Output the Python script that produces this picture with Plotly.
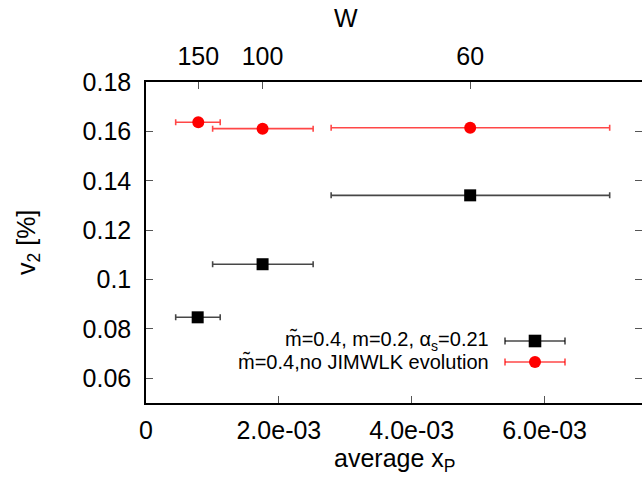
import plotly.graph_objects as go

# ---- data ----
xp_mean = [0.778e-3, 1.755e-3, 4.88e-3]
xp_lo = [0.447e-3, 1.003e-3, 2.787e-3]
xp_hi = [1.117e-3, 2.516e-3, 6.98e-3]
v2_jimwlk = [0.0847, 0.1062, 0.1341]
v2_nojimwlk = [0.1637, 0.1611, 0.1615]
xp_mean_red = [0.787e-3, 1.755e-3, 4.88e-3]
W_labels = ["150", "100", "60"]
x_ticks = [0, 2e-3, 4e-3, 6e-3]
x_ticktext = ["0", "2.0e-03", "4.0e-03", "6.0e-03"]
y_ticks = [0.06, 0.08, 0.10, 0.12, 0.14, 0.16, 0.18]
y_ticktext = ["0.06", "0.08", "0.1", "0.12", "0.14", "0.16", "0.18"]
names = ["m\u0303=0.4, m=0.2, \u03b1<sub>s</sub>=0.21", "m\u0303=0.4,no JIMWLK evolution"]

W, H = 642, 482
L, R, T, B = 146, 0, 82, 79
PW, PH = W - L - R, H - T - B
FONT = "Liberation Sans, Arial, Helvetica, sans-serif"
FS = 25

def px(xpix):
    return (xpix - L) / PW

def py(ypix):
    return (H - B - ypix) / PH

err_plus = [h - m for h, m in zip(xp_hi, xp_mean)]
err_minus = [m - l for m, l in zip(xp_mean, xp_lo)]
err_plus_r = [h - m for h, m in zip(xp_hi, xp_mean_red)]
err_minus_r = [m - l for m, l in zip(xp_mean_red, xp_lo)]

fig = go.Figure()
fig.add_trace(go.Scatter(
    x=xp_mean, y=v2_jimwlk, mode="markers", name=names[0],
    marker=dict(symbol="square", size=12, color="black"),
    error_x=dict(type="data", symmetric=False, array=err_plus, arrayminus=err_minus,
                 color="rgba(0,0,0,0.72)", thickness=1.6, width=3),
    showlegend=False))
fig.add_trace(go.Scatter(
    x=xp_mean_red, y=v2_nojimwlk, mode="markers", name=names[1],
    marker=dict(symbol="circle", size=12, color="#ff0000"),
    error_x=dict(type="data", symmetric=False, array=err_plus_r, arrayminus=err_minus_r,
                 color="rgba(255,0,0,0.72)", thickness=1.6, width=3),
    showlegend=False))
# invisible traces for top and right axes
fig.add_trace(go.Scatter(x=xp_mean, y=v2_jimwlk, xaxis="x2", yaxis="y2", mode="markers",
                         marker=dict(opacity=0), hoverinfo="skip", showlegend=False))

XMAX = (W - R - L) / 66.43 * 1e-3
tick_common = dict(ticks="inside", ticklen=7, tickcolor="#555", tickwidth=1.3,
                   showgrid=False, zeroline=False)
fig.update_layout(
    width=W, height=H, margin=dict(l=L, r=R, t=T, b=B),
    paper_bgcolor="white", plot_bgcolor="white",
    font=dict(family=FONT, size=FS, color="black"),
    xaxis=dict(range=[0, XMAX], tickvals=x_ticks, ticktext=x_ticktext,
               showline=True, linecolor="black", linewidth=1.5, mirror=False,
               ticklabelstandoff=4, **tick_common),
    xaxis2=dict(overlaying="x", side="top", range=[0, XMAX], tickvals=xp_mean_red,
                ticktext=W_labels, showline=True, linecolor="black", linewidth=1.5,
                ticklabelstandoff=5, **tick_common),
    yaxis=dict(range=[0.05, 0.18], tickvals=y_ticks, ticktext=y_ticktext,
               showline=True, linecolor="black", linewidth=1.5, mirror=False,
               ticklabelstandoff=8, **tick_common),
    yaxis2=dict(overlaying="y", side="right", range=[0.05, 0.18], tickvals=y_ticks,
                showticklabels=False, showline=False, **tick_common),
)

ann = [
    dict(text="v<sub>2</sub> [%]", x=px(28), y=py(243), textangle=-90),
    dict(text="average x<sub>P</sub>", x=px(394), y=py(460)),
    dict(text="W", x=px(346), y=py(18)),
]
for a in ann:
    fig.add_annotation(xref="paper", yref="paper", showarrow=False,
                       xanchor="center", yanchor="middle", font=dict(size=FS), **a)

leg_y = [341, 362]
for i, yy in enumerate(leg_y):
    fig.add_annotation(xref="paper", yref="paper", showarrow=False, text=names[i],
                       x=px(491), y=py(yy), xanchor="right", yanchor="middle",
                       font=dict(size=20))

# legend keys
cols = ["rgba(0,0,0,0.72)", "rgba(255,0,0,0.72)"]
for i, yy in enumerate(leg_y):
    c = cols[i]
    fig.add_shape(type="line", xref="paper", yref="paper", x0=px(505), x1=px(565),
                  y0=py(yy), y1=py(yy), line=dict(color=c, width=1.6))
    for xe in (505, 565):
        fig.add_shape(type="line", xref="paper", yref="paper", x0=px(xe), x1=px(xe),
                      y0=py(yy - 3.5), y1=py(yy + 3.5), line=dict(color=c, width=1.6))
fig.add_shape(type="rect", xref="paper", yref="paper", x0=px(535 - 6.3), x1=px(535 + 6.3),
              y0=py(leg_y[0] - 6.3), y1=py(leg_y[0] + 6.3),
              fillcolor="black", line=dict(width=0))
fig.add_shape(type="circle", xref="paper", yref="paper", x0=px(535 - 6), x1=px(535 + 6),
              y0=py(leg_y[1] - 6), y1=py(leg_y[1] + 6),
              fillcolor="#ff0000", line=dict(width=0))

fig.write_html("out.html")
